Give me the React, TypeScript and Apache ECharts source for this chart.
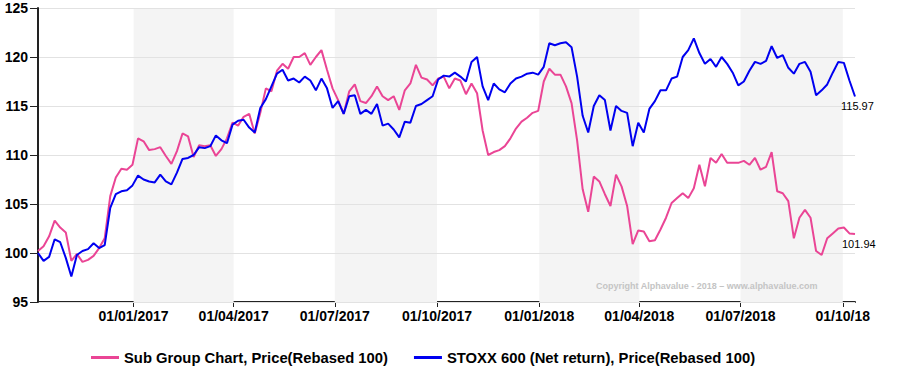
import React, { useEffect, useRef } from "react";
import * as echarts from "echarts";

// Sampling: one reading every 5 calendar days starting 07/10/2016
const START = [2016, 9, 7];
const STEP_DAYS = 5;

const subGroup = [
  100.2, 100.7, 101.7, 103.3, 102.6, 102.1, 99.2, 99.9, 99.1, 99.3,
  99.7, 100.5, 101.5, 105.8, 107.7, 108.6, 108.5, 109.0, 111.7, 111.4,
  110.5, 110.6, 110.8, 109.9, 109.1, 110.4, 112.2, 111.9, 109.8, 111.0,
  110.9, 111.0, 109.9, 110.6, 111.7, 113.3, 113.0, 113.9, 114.2, 112.2,
  114.3, 116.8, 116.5, 118.6, 119.3, 118.8, 120.0, 120.0, 120.4, 119.2,
  120.0, 120.7, 118.7, 116.8, 115.6, 114.2, 116.5, 117.2, 115.5, 115.3,
  116.0, 117.0, 116.0, 115.6, 116.0, 114.6, 116.6, 117.3, 119.2, 117.9,
  117.7, 117.1, 117.8, 118.0, 116.8, 117.8, 117.6, 116.2, 117.3, 116.3,
  112.5, 110.0, 110.3, 110.5, 110.9, 111.7, 112.7, 113.4, 113.8, 114.3,
  114.5, 117.5, 118.8, 118.2, 118.2, 117.0, 115.3, 111.5, 106.5, 104.2,
  107.8, 107.3, 106.0, 104.8, 108.0, 106.8, 104.8, 100.9, 102.3, 102.2,
  101.2, 101.3, 102.4, 103.6, 105.1, 105.6, 106.1, 105.6, 106.6, 109.0,
  106.8, 109.7, 109.2, 110.1, 109.2, 109.2, 109.2, 109.4, 109.0, 109.7,
  108.5, 108.8, 110.3, 106.3, 106.1, 105.3, 101.5, 103.6, 104.4, 103.6,
  100.2, 99.8, 101.5, 102.0, 102.5, 102.6, 102.0, 101.94,
];

const stoxx = [
  100.0, 99.2, 99.6, 101.4, 101.1, 99.5, 97.6, 99.8, 100.2, 100.4,
  101.0, 100.5, 100.8, 104.6, 106.0, 106.3, 106.4, 106.9, 107.9, 107.5,
  107.3, 107.2, 108.0, 107.3, 107.0, 108.2, 109.6, 109.7, 110.0, 110.8,
  110.7, 110.9, 112.0, 111.5, 111.2, 113.1, 113.5, 113.6, 112.8, 112.3,
  114.8, 115.7, 117.0, 118.3, 118.7, 117.6, 117.8, 117.4, 118.0, 117.6,
  116.6, 117.8, 116.8, 114.8, 115.5, 114.2, 116.0, 116.1, 114.2, 114.6,
  114.2, 115.2, 113.0, 113.2, 112.6, 111.8, 113.4, 113.3, 115.0, 115.2,
  115.6, 116.0, 117.7, 118.1, 118.0, 118.4, 118.0, 117.5, 119.5, 120.0,
  117.0, 115.6, 117.3, 116.7, 116.4, 117.3, 117.8, 118.0, 118.3, 118.4,
  118.2, 119.0, 121.4, 121.2, 121.4, 121.5, 121.0, 118.0, 114.0, 112.3,
  115.0, 116.1, 115.6, 112.5, 115.0, 114.5, 114.3, 110.9, 113.3, 112.3,
  114.7, 115.5, 116.6, 116.6, 117.8, 118.0, 120.0, 120.7, 121.9, 120.4,
  119.3, 119.8, 119.0, 120.0, 119.3, 118.4, 117.1, 117.5, 118.6, 119.5,
  119.3, 119.6, 121.1, 119.9, 120.2, 118.9, 118.3, 119.3, 119.5, 118.5,
  116.1, 116.6, 117.2, 118.4, 119.5, 119.4, 117.6, 115.97,
];

const seriesNames = [
  "Sub Group Chart, Price(Rebased 100)",
  "STOXX 600 (Net return), Price(Rebased 100)",
];

const tickDates = [
  "2017-01-01", "2017-04-01", "2017-07-01", "2017-10-01",
  "2018-01-01", "2018-04-01", "2018-07-01", "2018-10-01",
];

const shadedQuarters = [
  ["2017-01-01", "2017-04-01"],
  ["2017-07-01", "2017-10-01"],
  ["2018-01-01", "2018-04-01"],
  ["2018-07-01", "2018-10-01"],
];

const yTicks = [95, 100, 105, 110, 115, 120, 125];

const copyright = "Copyright Alphavalue - 2018 \u2013 www.alphavalue.com";

const FONT = "Arial, 'Liberation Sans', sans-serif";

function ts(s: string) {
  const [y, m, d] = s.split("-").map(Number);
  return new Date(y, m - 1, d).getTime();
}

function dateAt(i: number) {
  return new Date(START[0], START[1], START[2] + i * STEP_DAYS).getTime();
}

function pad(n: number) {
  return n < 10 ? "0" + n : "" + n;
}

export default function App() {
  const ref = useRef<HTMLDivElement>(null);

  useEffect(() => {
    if (!ref.current) return;
    const chart = echarts.init(ref.current, null, { renderer: "svg" });
    const pinkData = subGroup.map((v, i) => [dateAt(i), v]);
    const blueData = stoxx.map((v, i) => [dateAt(i), v]);
    const minX = dateAt(0);
    const maxX = dateAt(subGroup.length - 1);
    const tickTs = tickDates.map(ts);
    const lastTick = tickTs[tickTs.length - 1];

    chart.setOption({
      animation: false,
      backgroundColor: "#ffffff",
      textStyle: { fontFamily: FONT },
      grid: { left: 38, right: 53, top: 8, bottom: 82, containLabel: false },
      legend: {
        left: 86,
        top: 345,
        itemWidth: 28,
        itemHeight: 3,
        itemGap: 26,
        icon: "rect",
        data: seriesNames,
        textStyle: { fontFamily: FONT, fontSize: 14.8, fontWeight: "bold", color: "#000" },
      },
      xAxis: {
        type: "value",
        min: minX,
        max: maxX,
        axisLine: { show: true, onZero: false, lineStyle: { color: "#222", width: 2 } },
        axisTick: {
          show: true,
          length: 5,
          lineStyle: { color: "#222", width: 1 },
          customValues: tickTs,
        },
        axisLabel: {
          customValues: tickTs,
          margin: 7,
          fontFamily: FONT,
          fontSize: 14,
          fontWeight: "bold",
          color: "#000",
          formatter: (val: number) => {
            const d = new Date(val);
            const yr = val === lastTick ? String(d.getFullYear()).slice(2) : String(d.getFullYear());
            return pad(d.getDate()) + "/" + pad(d.getMonth() + 1) + "/" + yr;
          },
        },
        splitLine: { show: false },
      },
      yAxis: {
        type: "value",
        min: yTicks[0],
        max: yTicks[yTicks.length - 1],
        interval: 5,
        z: 1.5,
        axisLine: { show: true, lineStyle: { color: "#222", width: 2 } },
        axisTick: { show: true, length: 8, lineStyle: { color: "#222", width: 1 } },
        axisLabel: {
          margin: 10,
          fontFamily: FONT,
          fontSize: 14,
          fontWeight: "bold",
          color: "#000",
        },
        splitLine: { show: true, lineStyle: { color: "#e2e2e2", width: 1 } },
      },
      graphic: [
        {
          type: "text",
          left: 596,
          top: 281,
          z: 10,
          style: {
            text: copyright,
            fontFamily: FONT,
            fontSize: 9,
            fontWeight: "bold",
            fill: "#c4c4c4",
          },
        },
      ],
      series: [
        {
          name: "shade",
          type: "line",
          data: [],
          z: 1,
          silent: true,
          markArea: {
            silent: true,
            itemStyle: { color: "#f4f4f4" },
            data: shadedQuarters.map(([a, b]) => [{ xAxis: ts(a) }, { xAxis: ts(b) }]),
          },
        },
        {
          name: seriesNames[0],
          type: "line",
          data: pinkData,
          showSymbol: false,
          symbol: "none",
          z: 2,
          lineStyle: { color: "#ea4595", width: 2 },
          itemStyle: { color: "#ea4595" },
          endLabel: {
            show: true,
            formatter: (p: any) => p.value[1].toFixed(2),
            fontFamily: FONT,
            fontSize: 11,
            color: "#000",
            offset: [-21, 10],
          },
        },
        {
          name: seriesNames[1],
          type: "line",
          data: blueData,
          showSymbol: false,
          symbol: "none",
          z: 3,
          lineStyle: { color: "#0000f0", width: 2 },
          itemStyle: { color: "#0000f0" },
          endLabel: {
            show: true,
            formatter: (p: any) => p.value[1].toFixed(2),
            fontFamily: FONT,
            fontSize: 11,
            color: "#000",
            offset: [-22, 10],
          },
        },
      ],
    });
    return () => chart.dispose();
  }, []);

  return <div ref={ref} style={{ width: 908, height: 384, position: "absolute", left: 0, top: 0 }} />;
}
